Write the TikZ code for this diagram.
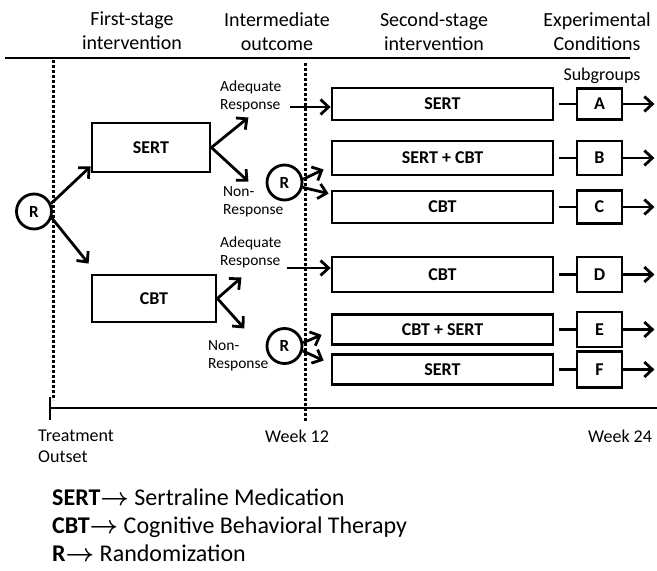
\documentclass[tikz,border=0pt]{standalone}
\usepackage{fontspec}
\setmainfont{Carlito}
\usetikzlibrary{arrows.meta}

\tikzset{
  lbox/.style={draw,line width=2.8pt,inner sep=0pt,font=\fontsize{18}{21}\selectfont\bfseries},
  rnode/.style={draw,circle,line width=2.8pt,minimum size=35pt,inner sep=0pt,font=\fontsize{17}{20}\selectfont\bfseries},
  arr/.style={line width=2.8pt,-{Straight Barb[length=8pt,width=15pt]}},
  txt/.style={inner sep=0pt,font=\fontsize{15.5}{18}\selectfont,align=left},
  hdr/.style={inner sep=0pt,font=\fontsize{20}{24}\selectfont,align=center},
  dotline/.style={line width=3pt,dash pattern=on 2.6pt off 2.4pt},
  lgd/.style={anchor=base west,inner sep=0pt,font=\fontsize{24}{28}\selectfont},
}
\newcommand{\legarrow}{{\boldmath$\rightarrow$}}

\begin{document}
\begin{tikzpicture}[x=1pt,y=-1pt]
\useasboundingbox (0,0) rectangle (657,571);
\node[hdr,anchor=north] (h1) at (132,12) {First-stage\\intervention};
\node[hdr,anchor=north] (h2) at (277,12) {Intermediate\\outcome};
\node[hdr,anchor=north] (h3) at (434,12) {Second-stage\\intervention};
\node[hdr,anchor=north] (h4) at (597,12) {Experimental\\Conditions};
\draw[line width=2.8pt] (5,58) -- (630,58);
\draw[dotline] (53,60) -- (53,400);
\draw[dotline] (305,63) -- (305,422);
\draw[line width=2.8pt] (50,408) -- (657,408) (50,397) -- (50,420);
\node[anchor=base,font=\fontsize{18}{21}\selectfont] (sg) at (602,80) {Subgroups};
\foreach \n/\y/\h/\g/\lab/\sub in {1/104/32/31/SERT/A,2/158/34/34/SERT + CBT/B,3/207/32/33/CBT/C,
    4/274.5/35/35/CBT/D,5/329.5/30/35/CBT + SERT/E,6/369.5/30/36/SERT/F}{%
  \node[lbox,minimum width=221,minimum height=\h] (s\n) at (442.5,\y) {\lab};
  \node[lbox,minimum width=45,minimum height=\g] (g\n) at (599.5,\y) {\sub};
  \draw[line width=2.8pt] ([xshift=5pt]s\n.east) -- (g\n.west);
  \draw[arr] (g\n.east) -- ++(31,0);}
\node[lbox,minimum width=118,minimum height=49] (f1) at (151,147.5) {SERT};
\node[lbox,minimum width=124,minimum height=47] (f2) at (154,298.5) {CBT};
\node[rnode] (r0) at (34,211.5) {R};
\node[rnode] (r1) at (284.5,182.5) {R};
\node[rnode] (r2) at (284.5,346) {R};
\draw[arr] (r0.25) -- ([shift={(0,-7)}]f1.south west);
\draw[arr] (r0.-20) -- ([shift={(-2,-10)}]f2.north west);
\draw[arr] (f1.east) -- ++(37,-30);
\draw[arr] (f1.east) -- ++(37,34);
\draw[arr] (f2.east) -- ++(24,-21);
\draw[arr] (f2.east) -- ++(27,30);
\draw[arr] (r1.10) -- ([shift={(-7,-7)}]s2.south west);
\draw[arr] (r1.-15) -- ([shift={(-2,4)}]s3.north west);
\draw[arr] (r2.10) -- ([shift={(-9,-11)}]s5.south west);
\draw[arr] (r2.-15) -- ([shift={(-7,7.5)}]s6.north west);
\node[txt,anchor=north west] (ad1) at (220,81) {Adequate\\Response};
\node[txt,anchor=north west] (nr1) at (223,186) {Non-\\Response};
\node[txt,anchor=north west] (ad2) at (220,237) {Adequate\\Response};
\node[txt,anchor=north west] (nr2) at (208,340) {Non-\\Response};
\coordinate (a1) at (290,107);
\coordinate (a2) at (287,268);
\draw[arr] (a1) -- (a1 -| s1.west);
\draw[arr] (a2) -- (a2 -| s4.west);
\node[anchor=north west,align=left,inner sep=0pt,font=\fontsize{18}{21}\selectfont] (t0) at (38,430) {Treatment\\Outset};
\node[anchor=base west,inner sep=0pt,font=\fontsize{18}{21}\selectfont] (w12) at (265,442) {Week 12};
\node[anchor=base west,inner sep=0pt,font=\fontsize{18}{21}\selectfont] (w24) at (588,442) {Week 24};
\node[lgd] (l1) at (52,505) {\textbf{SERT}\legarrow{} Sertraline Medication};
\node[lgd] (l2) at (52,533) {\textbf{CBT}\legarrow{} Cognitive Behavioral Therapy};
\node[lgd] (l3) at (52,561) {\textbf{R}\legarrow{} Randomization};
\end{tikzpicture}
\end{document}
